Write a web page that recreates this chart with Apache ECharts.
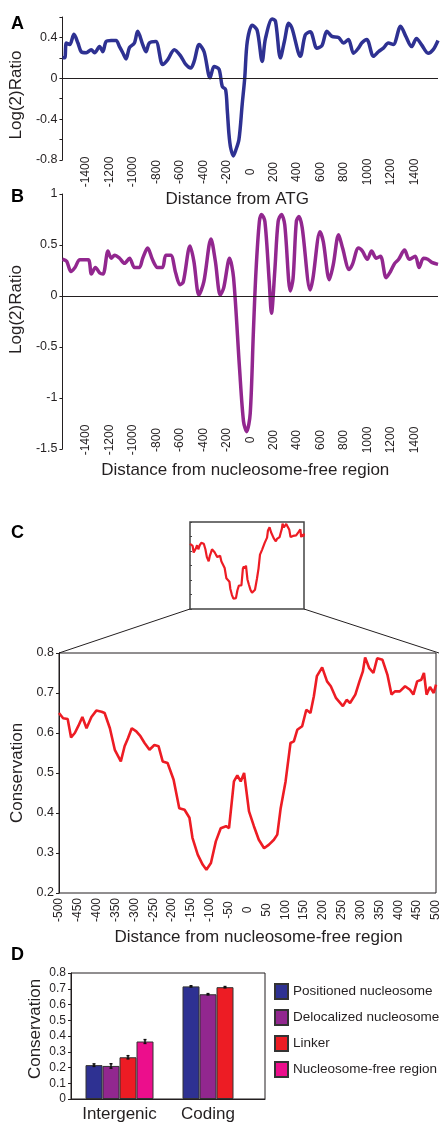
<!DOCTYPE html>
<html>
<head>
<meta charset="utf-8">
<script src="https://cdn.jsdelivr.net/npm/echarts@6/dist/echarts.min.js"></script>
<style>
html, body { margin: 0; padding: 0; background: #fff; }
.forchart { width: 442px; height: 1123px; }
</style>
</head>
<body>
<div class="forchart"></div>
<script>
// A: distance from ATG vs log2 ratio
var atgPos = [-1600,-1580,-1567,-1538,-1502,-1468,-1440,-1397,-1355,-1326,
  -1284,-1256,-1228,-1185,-1143,-1114,-1086,-1058,-1029,-987,
  -959,-916,-888,-860,-804,-747,-704,-647,-591,-549,
  -507,-478,-435,-393,-342,-308,-266,-238,-210,-195,
  -181,-167,-144,-125,-96,-68,-47,-25,17,59,
  102,130,187,215,257,291,328,356,427,469,
  512,568,611,653,696,753,795,837,880,922,
  950,993,1050,1092,1134,1177,1219,1281,1326,1375,
  1417,1459,1516,1559,1600];
var atgRatio = [0.2,0.2,0.345,0.33,0.43,0.345,0.26,0.25,0.28,0.25,
  0.31,0.26,0.36,0.37,0.37,0.31,0.25,0.19,0.30,0.345,
  0.46,0.33,0.26,0.345,0.36,0.135,0.18,0.28,0.215,0.135,
  0.10,0.165,0.33,0.26,0.005,0.115,0.09,-0.08,-0.11,-0.32,
  -0.55,-0.68,-0.76,-0.71,-0.6,-0.25,0.0,0.36,0.52,0.47,
  0.165,0.39,0.58,0.56,0.2,0.36,0.54,0.49,0.215,0.425,
  0.455,0.295,0.32,0.46,0.41,0.40,0.345,0.38,0.245,0.295,
  0.345,0.38,0.215,0.26,0.295,0.345,0.33,0.51,0.41,0.31,
  0.39,0.33,0.245,0.28,0.37];

// B: distance from nucleosome-free region vs log2 ratio
var nfrPos = [-1600,-1564,-1527,-1493,-1451,-1380,-1353,-1319,-1282,-1254,
  -1212,-1184,-1155,-1113,-1071,-1028,-986,-944,-916,-874,
  -832,-789,-747,-719,-677,-635,-598,-570,-513,-480,
  -437,-395,-334,-297,-255,-226,-176,-142,-91,-57,
  -30,0,27,49,78,97,125,162,181,
  209,238,266,294,342,365,393,415,443,511,
  534,595,623,674,708,753,787,843,871,922,
  956,998,1034,1074,1110,1158,1195,1231,1265,1315,
  1355,1406,1439,1476,1513,1547,1600];
var nfrRatio = [0.36,0.34,0.24,0.28,0.355,0.355,0.215,0.28,0.225,0.215,
  0.44,0.37,0.40,0.37,0.32,0.37,0.28,0.28,0.37,0.47,
  0.355,0.28,0.28,0.40,0.40,0.225,0.11,0.14,0.49,0.34,
  0.01,0.14,0.56,0.34,0.01,0.08,0.37,0.18,-0.71,-1.23,
  -1.33,-1.15,-0.35,0.24,0.73,0.80,0.73,0.14,-0.17,
  0.24,0.73,0.80,0.70,0.05,0.17,0.73,0.78,0.67,0.06,
  0.17,0.63,0.53,0.16,0.31,0.60,0.47,0.26,0.31,0.47,
  0.44,0.36,0.44,0.37,0.39,0.18,0.24,0.32,0.36,0.45,
  0.36,0.39,0.28,0.37,0.36,0.33,0.31];

// C: conservation around nucleosome-free region
var consPos = [-500,-489,-477,-468,-458,-449,-438,-427,-414,-401,
  -387,-379,-365,-352,-336,-326,-317,-307,-295,-284,
  -273,-260,-247,-236,-225,-212,-196,-181,-167,-154,
  -146,-132,-119,-109,-97,-84,-71,-57,-49,-36,
  -27,-18,-9,4,17,30,44,57,70,79,
  88,101,114,123,132,145,156,167,176,184,
  198,211,221,235,253,263,272,286,297,306,
  312,323,334,344,358,371,382,391,404,418,
  431,440,450,461,468,475,484,494,500];
var consVal = [0.65,0.637,0.635,0.589,0.60,0.617,0.64,0.612,0.64,0.656,
  0.653,0.65,0.612,0.558,0.529,0.567,0.587,0.612,0.604,0.592,
  0.575,0.558,0.57,0.567,0.529,0.525,0.483,0.412,0.408,0.388,
  0.338,0.296,0.271,0.258,0.275,0.329,0.362,0.367,0.362,0.479,
  0.494,0.479,0.50,0.404,0.367,0.333,0.312,0.321,0.333,0.346,
  0.412,0.479,0.575,0.579,0.608,0.617,0.658,0.65,0.692,0.742,
  0.764,0.729,0.717,0.687,0.667,0.683,0.675,0.696,0.729,0.754,
  0.789,0.762,0.75,0.787,0.783,0.746,0.696,0.704,0.704,0.717,
  0.708,0.696,0.729,0.733,0.75,0.696,0.715,0.70,0.721];

// D: conservation by region type
var regionTypes = ["Intergenic", "Coding"];
var classNames = ["Positioned nucleosome", "Delocalized nucleosome", "Linker", "Nucleosome-free region"];
var positionedVal = [0.215, 0.715];
var delocalizedVal = [0.21, 0.665];
var linkerVal = [0.265, 0.71];
var nfrVal = [0.365, null];
var positionedErr = [0.008, 0.004];
var delocalizedErr = [0.014, 0.004];
var linkerErr = [0.01, 0.004];
var nfrErr = [0.012, null];

(function(){
  var myChart = echarts.init(document.querySelector('.forchart'));
  var ink = "#231f20";
  var font = "Liberation Sans, Arial, sans-serif";
  var barColors = ["#2e3192", "#92278f", "#ed1c24", "#ec0e8c"];
  var barW = 17;

  function zip(xs, ys) {
    return xs.map(function (x, i) { return [x, ys[i]]; });
  }

  function distAxis(idx, min, max, step, margin, name, gap, pad, hideEnds) {
    return {
      type: "value", gridIndex: idx, min: min, max: max, interval: step,
      axisLine: { show: false, onZero: false }, axisTick: { show: false }, splitLine: { show: false },
      axisLabel: {
        rotate: 90, align: "center", verticalAlign: "middle", margin: margin,
        fontSize: 12, color: ink, showMinLabel: !hideEnds, showMaxLabel: !hideEnds,
        formatter: function (v) { return String(v); },
      },
      name: name, nameLocation: "middle", nameGap: gap,
      nameTextStyle: { fontSize: 17, color: ink, padding: pad },
    };
  }

  function valAxis(idx, min, max, step, name, gap, pad, fmt, fs) {
    return {
      type: "value", gridIndex: idx, min: min, max: max, interval: step,
      axisLine: { show: true, onZero: false, lineStyle: { color: ink, width: 1 } },
      axisTick: { show: true, length: 3, lineStyle: { color: ink } },
      splitLine: { show: false },
      axisLabel: { fontSize: fs || 12.5, color: ink, margin: 5, formatter: fmt },
      name: name, nameLocation: "middle", nameGap: gap,
      nameTextStyle: { fontSize: 17, color: ink, padding: pad },
    };
  }

  var zeroLine = {
    silent: true, symbol: "none", label: { show: false },
    lineStyle: { color: ink, width: 1, type: "solid" },
    emphasis: { disabled: true },
    data: [{ yAxis: 0 }],
  };

  function errBars(slot, vals, errs) {
    var data = [];
    vals.forEach(function (v, i) {
      if (v != null) data.push([i, v - errs[i], v + errs[i]]);
    });
    return {
      type: "custom", xAxisIndex: 4, yAxisIndex: 4, z: 5, silent: true,
      data: data,
      renderItem: function (params, api) {
        var lo = api.coord([api.value(0), api.value(1)]);
        var hi = api.coord([api.value(0), api.value(2)]);
        var x = lo[0] + (slot - 1.5) * barW;
        var st = { stroke: "#111", lineWidth: 1.5 };
        return {
          type: "group",
          children: [
            { type: "line", shape: { x1: x, y1: lo[1], x2: x, y2: hi[1] }, style: st },
            { type: "line", shape: { x1: x - 1.5, y1: lo[1], x2: x + 1.5, y2: lo[1] }, style: st },
            { type: "line", shape: { x1: x - 1.5, y1: hi[1], x2: x + 1.5, y2: hi[1] }, style: st },
          ],
        };
      },
    };
  }

  function bar(name, vals, color) {
    return {
      name: name, type: "bar", xAxisIndex: 4, yAxisIndex: 4,
      barWidth: barW, barGap: 0, data: vals,
      itemStyle: { color: color, borderColor: "#333", borderWidth: 1 },
    };
  }

  var letterStyle = { fill: "#000", font: "bold 18px " + font, textVerticalAlign: "top" };

  var option = {
    animation: false,
    textStyle: { fontFamily: font },
    grid: [
      { left: 59, top: 17, width: 379, height: 143 },
      { left: 59, top: 194, width: 379, height: 255 },
      { left: 190, top: 522, width: 114, height: 87, show: true, borderColor: "#444", borderWidth: 1.5 },
      { left: 59, top: 653, width: 380, height: 240, show: true, borderColor: ink, borderWidth: 1 },
      { left: 71, top: 973, width: 194, height: 127, show: true, borderColor: ink, borderWidth: 1 },
    ],
    xAxis: [
      distAxis(0, -1600, 1600, 200, 12, "Distance from ATG", 24, [0, 26, 0, 0], true),
      distAxis(1, -1600, 1600, 200, -9, "Distance from nucleosome-free region", 13, [0, 10, 0, 0], true),
      { type: "value", gridIndex: 2, min: -500, max: 500, show: false },
      distAxis(3, -500, 500, 50, 17, "Distance from nucleosome-free region", 36, [0, 0, 0, 22], false),
      {
        type: "category", gridIndex: 4, data: regionTypes,
        axisLine: { show: true, lineStyle: { color: ink } }, axisTick: { show: false },
        axisLabel: {
          interval: 0, fontSize: 17, color: ink, margin: 7,
          formatter: function (v) { return v === "Coding" ? "{s|" + v + "}" : v; },
          rich: { s: { fontSize: 17, color: ink, padding: [0, 17, 0, 0] } },
        },
      },
    ],
    yAxis: [
      valAxis(0, -0.8, 0.6, 0.2, "Log(2)Ratio", 30, [0, 13, 0, 0], function (v) {
        return Math.round(v * 10) % 4 === 0 ? String(Math.round(v * 10) / 10) : "";
      }),
      valAxis(1, -1.5, 1, 0.5, "Log(2)Ratio", 30, [0, 0, 0, 24]),
      {
        type: "value", gridIndex: 2, min: 0.2, max: 0.8, interval: 0.1,
        axisLine: { show: false, onZero: false }, splitLine: { show: false }, axisLabel: { show: false },
        axisTick: { show: true, inside: true, length: 2, lineStyle: { color: "#444" } },
      },
      valAxis(3, 0.2, 0.8, 0.1, "Conservation", 25, [0, 0, 0, 0]),
      valAxis(4, 0, 0.8, 0.1, "Conservation", 27, [0, 0, 0, 14], null, 12),
    ],
    legend: {
      data: classNames, orient: "vertical", left: 274, top: 983, padding: 0,
      icon: "rect", itemWidth: 13, itemHeight: 15, itemGap: 9,
      textStyle: { fontSize: 13.5, color: ink }, selectedMode: false,
    },
    series: [
      {
        type: "line", xAxisIndex: 0, yAxisIndex: 0, data: zip(atgPos, atgRatio),
        showSymbol: false, smooth: 0.3, lineStyle: { color: "#2e3192", width: 3.5 },
        markLine: zeroLine, z: 3,
      },
      {
        type: "line", xAxisIndex: 1, yAxisIndex: 1, data: zip(nfrPos, nfrRatio),
        showSymbol: false, smooth: 0.3, lineStyle: { color: "#92278f", width: 3.5 },
        markLine: zeroLine, z: 3,
      },
      {
        type: "line", xAxisIndex: 2, yAxisIndex: 2, data: zip(consPos, consVal),
        showSymbol: false, lineStyle: { color: "#ed1c24", width: 2.2 },
      },
      {
        type: "line", xAxisIndex: 3, yAxisIndex: 3, data: zip(consPos, consVal),
        showSymbol: false, lineStyle: { color: "#ed1c24", width: 2.6 },
      },
      bar(classNames[0], positionedVal, barColors[0]),
      bar(classNames[1], delocalizedVal, barColors[1]),
      bar(classNames[2], linkerVal, barColors[2]),
      bar(classNames[3], nfrVal, barColors[3]),
      errBars(0, positionedVal, positionedErr),
      errBars(1, delocalizedVal, delocalizedErr),
      errBars(2, linkerVal, linkerErr),
      errBars(3, nfrVal, nfrErr),
    ],
    graphic: [
      { type: "text", left: 11, top: 15, style: Object.assign({ text: "A" }, letterStyle) },
      { type: "text", left: 11, top: 188, style: Object.assign({ text: "B" }, letterStyle) },
      { type: "text", left: 11, top: 524, style: Object.assign({ text: "C" }, letterStyle) },
      { type: "text", left: 11, top: 946, style: Object.assign({ text: "D" }, letterStyle) },
      // zoom connectors from the inset box to the enlarged panel
      { type: "line", shape: { x1: 190, y1: 609, x2: 59, y2: 653 }, style: { stroke: ink, lineWidth: 1 } },
      { type: "line", shape: { x1: 304, y1: 609, x2: 439, y2: 653 }, style: { stroke: ink, lineWidth: 1 } },
    ],
  };
  myChart.setOption(option);
  window.addEventListener("resize", function () {
    myChart.resize();
  });
})();
</script>
</body>
</html>
